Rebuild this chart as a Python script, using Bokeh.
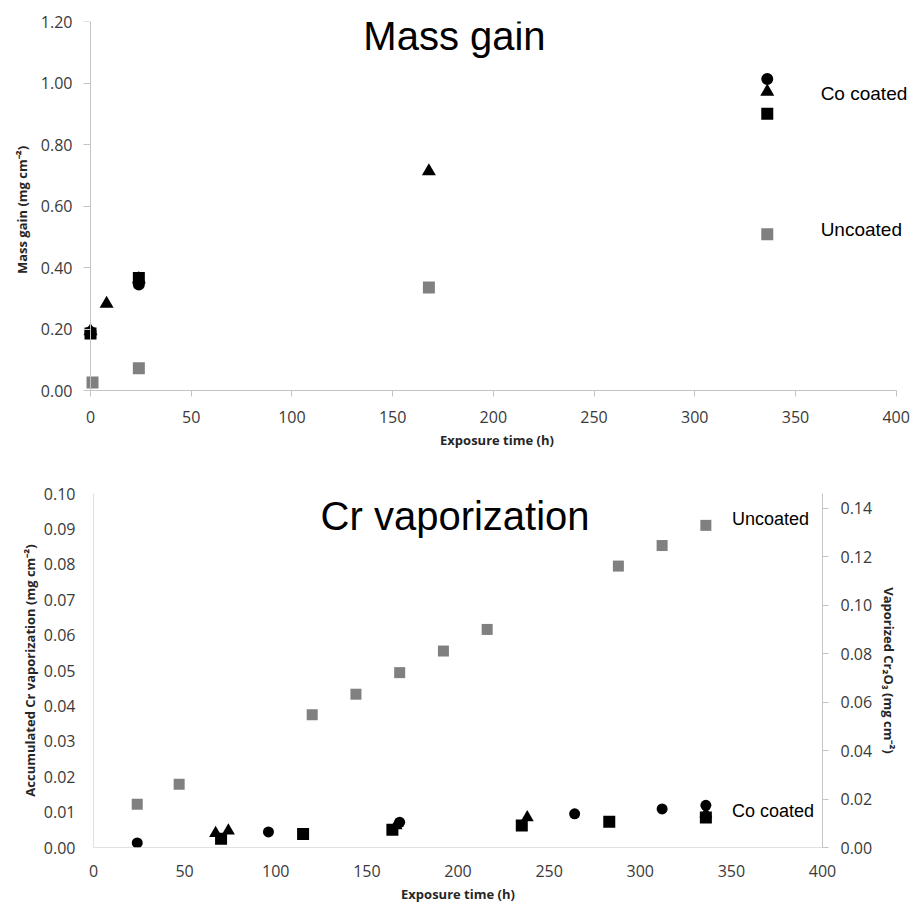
from bokeh.plotting import figure
from bokeh.models import Range1d, LinearAxis, Label, FixedTicker, NumeralTickFormatter
from bokeh.embed import file_html
from bokeh.resources import INLINE

# ---------------- data: mass gain (top) ----------------
mg_circle_h = [0, 24, 336]
mg_circle_v = [0.190, 0.345, 1.013]
mg_tri_h = [0, 8, 24, 168, 336]
mg_tri_v = [0.193, 0.282, 0.362, 0.713, 0.972]
mg_sq_h = [0, 24, 336]
mg_sq_v = [0.185, 0.366, 0.900]
mg_unc_h = [1, 24, 168, 336]
mg_unc_v = [0.026, 0.072, 0.335, 0.508]

# ---------------- data: Cr vaporization (bottom) ----------------
cr_unc_h = [24, 47, 120, 144, 168, 192, 216, 288, 312, 336]
cr_unc_v = [0.0122, 0.0179, 0.0375, 0.0433, 0.0494, 0.0555, 0.0616, 0.0795, 0.0853, 0.0910]
cr_circle_h = [24, 96, 168, 264, 312, 336]
cr_circle_v = [0.0013, 0.0044, 0.0071, 0.0095, 0.0109, 0.0119]
cr_tri_h = [67, 74, 166, 238, 336]
cr_tri_v = [0.0040, 0.0047, 0.0062, 0.0085, 0.0095]
cr_sq_h = [70, 115, 164, 235, 283, 336]
cr_sq_v = [0.0025, 0.0038, 0.0050, 0.0062, 0.0073, 0.0085]

x_ticks = [0, 50, 100, 150, 200, 250, 300, 350, 400]
mg_y_ticks = [0.0, 0.2, 0.4, 0.6, 0.8, 1.0, 1.2]
cr_y_ticks = [0.00, 0.01, 0.02, 0.03, 0.04, 0.05, 0.06, 0.07, 0.08, 0.09, 0.10]
cr2o3_ticks = [0.00, 0.02, 0.04, 0.06, 0.08, 0.10, 0.12, 0.14]

CR2O3_PER_CR = 151.99 / (2 * 51.996)

AXIS_COLOR = "#c4c4c4"
TICK_FONT = "Open Sans"
TICK_SIZE = "16px"
TICK_COLOR = "#3a3a3a"
GRAY = "#808080"


def style_label_axis(ax, label_standoff, title_standoff):
    """Axis in the side panel: draws tick labels and title only."""
    ax.axis_line_color = None
    ax.major_tick_line_color = None
    ax.minor_tick_line_color = None
    ax.major_tick_out = 0
    ax.major_tick_in = 0
    ax.minor_tick_out = 0
    ax.minor_tick_in = 0
    ax.major_label_text_font = TICK_FONT
    ax.major_label_text_font_size = TICK_SIZE
    ax.major_label_text_color = TICK_COLOR
    ax.major_label_standoff = label_standoff
    ax.axis_label_text_font = TICK_FONT
    ax.axis_label_text_font_style = "bold"
    ax.axis_label_text_font_size = "13px"
    ax.axis_label_text_color = "#262626"
    ax.axis_label_standoff = title_standoff


def line_axis(ticks, bounds, tick_out, **kw):
    """Axis pinned at the zero of the other range: draws line and ticks only."""
    return LinearAxis(fixed_location=0, ticker=FixedTicker(ticks=ticks), bounds=bounds,
                      axis_line_color=AXIS_COLOR, major_tick_line_color=AXIS_COLOR,
                      minor_tick_line_color=None, major_tick_out=tick_out, major_tick_in=0,
                      major_label_text_color=None, **kw)


# ---------------- top figure ----------------
# small padding so that markers at t=0 are not clipped; axes are pinned at 0
p1 = figure(width=913, height=462, output_backend="svg", toolbar_location=None,
            x_range=Range1d(-4.965, 408.6), y_range=Range1d(-0.026, 1.2),
            min_border_left=80, min_border_right=0, min_border_top=21, min_border_bottom=64)
p1.outline_line_color = None
p1.grid.grid_line_color = None
p1.xaxis.ticker = FixedTicker(ticks=x_ticks)
p1.yaxis.ticker = FixedTicker(ticks=mg_y_ticks)
p1.yaxis.formatter = NumeralTickFormatter(format="0.00")
p1.xaxis.axis_label = "Exposure time (h)"
p1.yaxis.axis_label = "Mass gain (mg cm⁻²)"
for ax in p1.xaxis:
    style_label_axis(ax, 12, 5)
for ax in p1.yaxis:
    style_label_axis(ax, 8, 7)
p1.add_layout(line_axis(x_ticks, (0, 400), 6), "below")
p1.add_layout(line_axis(mg_y_ticks, (0, 1.2), 7), "left")

p1.scatter(mg_unc_h, mg_unc_v, marker="square", size=12, fill_color=GRAY, line_color=None)
p1.scatter(mg_sq_h, mg_sq_v, marker="square", size=12, fill_color="black", line_color=None)
p1.scatter(mg_tri_h, mg_tri_v, marker="triangle", size=14, fill_color="black", line_color=None)
p1.scatter(mg_circle_h, mg_circle_v, marker="circle", size=12, fill_color="black", line_color=None)

p1.add_layout(Label(x=180.7, y=1.154, text="Mass gain", text_align="center",
                    text_baseline="alphabetic", text_font="Liberation Sans",
                    text_font_size="40px", text_color="black"))
p1.add_layout(Label(x=362.5, y=0.965, text="Co coated", text_align="left",
                    text_baseline="middle", text_font="Liberation Sans",
                    text_font_size="19px", text_color="black"))
p1.add_layout(Label(x=362.5, y=0.523, text="Uncoated", text_align="left",
                    text_baseline="middle", text_font="Liberation Sans",
                    text_font_size="19px", text_color="black"))

# ---------------- bottom figure ----------------
p2 = figure(width=913, height=445, output_backend="svg", toolbar_location=None,
            x_range=Range1d(0, 400), y_range=Range1d(0, 0.10),
            min_border_left=93, min_border_right=91, min_border_top=31, min_border_bottom=60)
p2.extra_y_ranges = {"cr2o3": Range1d(0, 0.10 * CR2O3_PER_CR)}
p2.outline_line_color = None
p2.grid.grid_line_color = None
p2.xaxis.ticker = FixedTicker(ticks=x_ticks)
p2.yaxis.ticker = FixedTicker(ticks=cr_y_ticks)
p2.yaxis.formatter = NumeralTickFormatter(format="0.00")
p2.xaxis.axis_label = "Exposure time (h)"
p2.yaxis.axis_label = "Accumulated Cr vaporization (mg cm⁻²)"
for ax in p2.xaxis:
    style_label_axis(ax, 17, 5)
for ax in p2.yaxis:
    style_label_axis(ax, 18, 2)
p2.add_layout(line_axis(x_ticks, (0, 400), 6), "below")
p2.add_layout(line_axis(cr_y_ticks, (0, 0.10), 7), "left")

right_ax = LinearAxis(y_range_name="cr2o3", ticker=FixedTicker(ticks=cr2o3_ticks),
                      formatter=NumeralTickFormatter(format="0.00"),
                      axis_label="Vaporized Cr₂O₃ (mg cm⁻²)")
style_label_axis(right_ax, 12, 5)
right_ax.axis_line_color = AXIS_COLOR
right_ax.major_tick_line_color = AXIS_COLOR
right_ax.major_tick_out = 6
p2.add_layout(right_ax, "right")

p2.scatter(cr_unc_h, cr_unc_v, marker="square", size=11, fill_color=GRAY, line_color=None)
p2.scatter(cr_sq_h, cr_sq_v, marker="square", size=12, fill_color="black", line_color=None)
p2.scatter(cr_tri_h, cr_tri_v, marker="triangle", size=13, fill_color="black", line_color=None)
p2.scatter(cr_circle_h, cr_circle_v, marker="circle", size=11, fill_color="black", line_color=None)

p2.add_layout(Label(x=198.4, y=0.0936, text="Cr vaporization", text_align="center",
                    text_baseline="alphabetic", text_font="Liberation Sans",
                    text_font_size="40px", text_color="black"))
p2.add_layout(Label(x=350.3, y=0.0928, text="Uncoated", text_align="left",
                    text_baseline="middle", text_font="Liberation Sans",
                    text_font_size="18px", text_color="black"))
p2.add_layout(Label(x=350.3, y=0.0102, text="Co coated", text_align="left",
                    text_baseline="middle", text_font="Liberation Sans",
                    text_font_size="18px", text_color="black"))

open("out.html", "w").write(file_html([p1, p2], INLINE))
